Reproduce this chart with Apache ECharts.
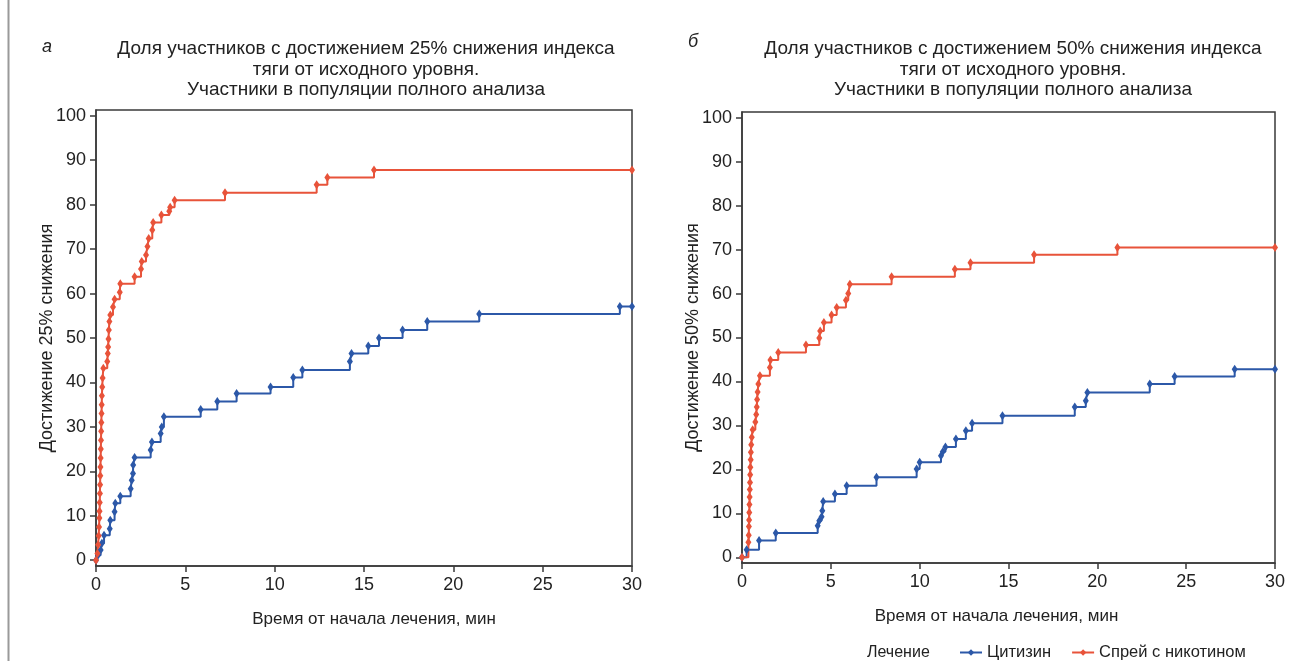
<!DOCTYPE html>
<html>
<head>
<meta charset="utf-8">
<script src="https://cdn.jsdelivr.net/npm/echarts@6/dist/echarts.min.js"></script>
<style>
html,body{margin:0;padding:0;background:#fff;}
#chart{width:1306px;height:661px;}
</style>
</head>
<body>
<div id="chart"></div>
<script>
// ---- Data ----
const xTicks = [0, 5, 10, 15, 20, 25, 30];
const yTicks = [0, 10, 20, 30, 40, 50, 60, 70, 80, 90, 100];

const titleLeft = 'Доля участников с достижением 25% снижения индекса\nтяги от исходного уровня.\nУчастники в популяции полного анализа';
const titleRight = 'Доля участников с достижением 50% снижения индекса\nтяги от исходного уровня.\nУчастники в популяции полного анализа';
const yNameLeft = 'Достижение 25% снижения';
const yNameRight = 'Достижение 50% снижения';
const xName = 'Время от начала лечения, мин';
const seriesNames = ['Цитизин', 'Спрей с никотином'];
const legendTitle = 'Лечение';
const panelLabels = ['а', 'б'];

// Panel a (25% reduction): [time, percent]
const leftCytisine = [[0,0],[0.11,1.1],[0.26,2.3],[0.33,3.8],[0.45,5.6],[0.77,7.1],[0.8,9],[1.04,10.9],[1.08,12.8],[1.36,14.4],[1.94,16.1],[2.0,18],[2.07,19.5],[2.08,21.4],[2.16,23.1],[3.06,24.8],[3.13,26.6],[3.62,28.5],[3.68,30],[3.8,32.3],[5.86,33.9],[6.79,35.7],[7.87,37.5],[9.77,39],[11.04,41.1],[11.55,42.8],[14.21,44.7],[14.3,46.5],[15.24,48.2],[15.84,50],[17.16,51.8],[18.54,53.7],[21.45,55.4],[29.32,57.1],[30,57.1]];
const leftSpray = [[0,0],[0.08,1.5],[0.12,3.5],[0.15,5.5],[0.17,7.5],[0.19,9.5],[0.2,11],[0.21,13],[0.22,15],[0.23,17],[0.24,19],[0.25,21],[0.26,23],[0.27,25],[0.28,27],[0.29,29],[0.3,31],[0.31,33],[0.32,35],[0.33,37],[0.35,39],[0.37,41],[0.41,43.2],[0.63,44.7],[0.66,46.5],[0.68,48],[0.7,49.8],[0.72,51.8],[0.75,53.7],[0.8,55.2],[0.95,57],[1.04,58.7],[1.33,60.3],[1.36,62.2],[2.16,63.8],[2.52,65.5],[2.56,67.2],[2.8,68.7],[2.88,70.6],[2.95,72.4],[3.15,74.3],[3.2,76],[3.66,77.7],[4.1,78.5],[4.15,79.4],[4.4,81],[7.22,82.7],[12.35,84.5],[12.95,86.1],[15.56,87.8],[30,87.8]];

// Panel б (50% reduction): [time, percent]
const rightCytisine = [[0,0],[0.26,1.7],[0.96,3.8],[1.9,5.5],[4.26,7.2],[4.35,8.3],[4.48,9.2],[4.52,10.6],[4.57,12.7],[5.23,14.4],[5.89,16.3],[7.57,18.2],[9.83,20.1],[10.0,21.6],[11.2,23.1],[11.3,24.0],[11.45,25.1],[12.04,26.9],[12.6,28.8],[12.95,30.5],[14.66,32.2],[18.73,34.2],[19.35,35.6],[19.44,37.5],[22.95,39.4],[24.35,41.1],[27.73,42.8],[30,42.8]];
const rightSpray = [[0,0],[0.36,3.4],[0.38,5],[0.39,7],[0.4,8.5],[0.41,10.2],[0.42,12],[0.43,13.7],[0.44,15.4],[0.45,17],[0.46,18.8],[0.47,20.5],[0.49,22.2],[0.5,23.9],[0.52,25.6],[0.55,27.3],[0.6,29],[0.75,30.8],[0.8,32.5],[0.83,34.2],[0.85,35.9],[0.88,37.6],[0.92,39.4],[1.01,41.3],[1.57,43.2],[1.6,44.9],[2.04,46.6],[3.6,48.3],[4.35,49.9],[4.4,51.5],[4.61,53.4],[5.04,55.1],[5.33,56.8],[5.85,58.5],[5.98,60],[6.07,62.1],[8.42,63.8],[11.98,65.5],[12.86,67],[16.44,68.8],[21.13,70.5],[30,70.5]];

// ---- Styles ----
const FONT = "'Liberation Sans', Arial, sans-serif";
const BLUE = '#2c58a8';
const RED = '#e8533a';
const AXIS = '#3a3a3a';
const TEXT = '#222';

const chart = echarts.init(document.getElementById('chart'), null, {renderer: 'canvas'});

function xAxisCfg(gridIndex, namePadding) {
  return {
    type: 'value', gridIndex, min: 0, max: 30, interval: 5,
    name: xName, nameLocation: 'middle', nameGap: 45, nameMoveOverlap: false,
    nameTextStyle: {fontFamily: FONT, fontSize: 17, color: TEXT, padding: namePadding},
    axisLine: {show: true, onZero: false, lineStyle: {color: AXIS, width: 1.5}},
    axisTick: {show: true, length: 6, lineStyle: {color: AXIS, width: 1.5}, customValues: xTicks},
    axisLabel: {fontFamily: FONT, fontSize: 18, color: TEXT, margin: 10, customValues: xTicks},
    splitLine: {show: false}
  };
}
function yAxisCfg(gridIndex, name) {
  return {
    type: 'value', gridIndex, min: -1.3, max: 101.3,
    name, nameLocation: 'middle', nameGap: 40, nameRotate: 90, nameMoveOverlap: false,
    nameTextStyle: {fontFamily: FONT, fontSize: 18, color: TEXT},
    axisLine: {show: true, onZero: false, lineStyle: {color: AXIS, width: 1.5}},
    axisTick: {show: true, length: 6, lineStyle: {color: AXIS, width: 1.5}, customValues: yTicks},
    axisLabel: {fontFamily: FONT, fontSize: 18, color: TEXT, margin: 10, customValues: yTicks},
    splitLine: {show: false}
  };
}
function seriesCfg(name, data, color, idx) {
  return {
    name, type: 'line', step: 'end', data,
    xAxisIndex: idx, yAxisIndex: idx,
    symbol: 'diamond', symbolSize: [6, 9], showSymbol: true,
    lineStyle: {color, width: 2},
    itemStyle: {color},
    animation: false, silent: true
  };
}

const titleStyle = {fontFamily: FONT, fontSize: 19, fontWeight: 'normal', color: TEXT, lineHeight: 20.5};
const panelStyle = {fontFamily: FONT, fontSize: 18, fontStyle: 'italic', fontWeight: 'normal', color: TEXT};

const option = {
  backgroundColor: '#fff',
  animation: false,
  textStyle: {fontFamily: FONT},
  title: [
    {text: titleLeft, left: 361, top: 34, textAlign: 'center', textStyle: titleStyle},
    {text: titleRight, left: 1008, top: 34, textAlign: 'center', textStyle: titleStyle},
    {text: panelLabels[0], left: 37, top: 33, textStyle: panelStyle},
    {text: panelLabels[1], left: 683, top: 28, textStyle: panelStyle},
    {text: legendTitle, left: 862, top: 640,
     textStyle: {fontFamily: FONT, fontSize: 16, fontWeight: 'normal', color: TEXT}}
  ],
  grid: [
    {left: 96, top: 110, width: 536, height: 456, show: true, borderColor: AXIS, borderWidth: 1.5, backgroundColor: 'transparent'},
    {left: 742, top: 112, width: 533, height: 451, show: true, borderColor: AXIS, borderWidth: 1.5, backgroundColor: 'transparent'}
  ],
  xAxis: [xAxisCfg(0, [0, 0, 0, 20]), xAxisCfg(1, [0, 24, 0, 0])],
  yAxis: [yAxisCfg(0, yNameLeft), yAxisCfg(1, yNameRight)],
  legend: {
    data: seriesNames, left: 954, top: 639, itemWidth: 22, itemHeight: 8, itemGap: 20,
    textStyle: {fontFamily: FONT, fontSize: 16.5, color: TEXT},
    selectedMode: false
  },
  graphic: [
    {type: 'line', shape: {x1: 8.5, y1: 0, x2: 8.5, y2: 661}, style: {stroke: '#9a9a9a', lineWidth: 2}}
  ],
  series: [
    seriesCfg(seriesNames[0], leftCytisine, BLUE, 0),
    seriesCfg(seriesNames[1], leftSpray, RED, 0),
    seriesCfg(seriesNames[0], rightCytisine, BLUE, 1),
    seriesCfg(seriesNames[1], rightSpray, RED, 1)
  ]
};
chart.setOption(option);
</script>
</body>
</html>
